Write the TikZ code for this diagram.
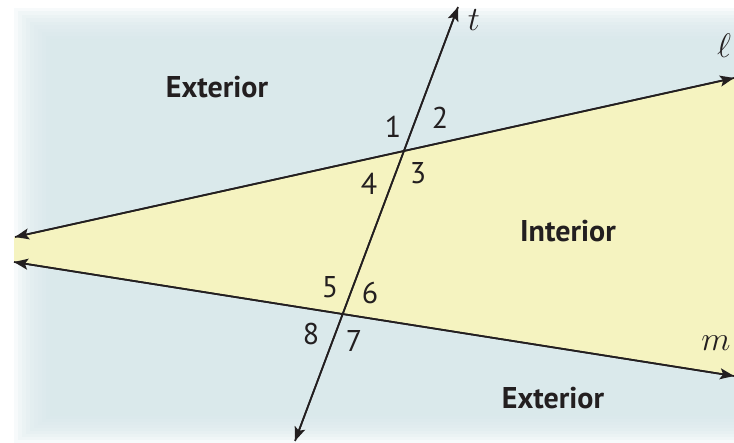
\RequirePackage{fix-cm}
\documentclass[tikz,border=0pt]{standalone}
\usepackage{fontspec}
\setmainfont{PT Sans}
\usetikzlibrary{arrows.meta}
\definecolor{ink}{RGB}{35,31,32}
\definecolor{bluebg}{RGB}{214,230,233}
\definecolor{yel}{RGB}{245,243,192}
\tikzset{
  ln/.style={line width=1.7pt, draw=ink, -{Stealth[length=14pt,width=11pt,inset=3pt]}},
  num/.style={font=\fontsize{30}{30}\selectfont, text=ink, inner sep=0pt},
  region/.style={font=\bfseries\fontsize{30}{30}\selectfont, text=ink, inner sep=0pt},
  var/.style={font=\fontsize{34}{34}\selectfont, text=ink, inner sep=0pt}
}
\begin{document}
\begin{tikzpicture}[x=1pt,y=-1pt]
\useasboundingbox (0,0) rectangle (734,443);
% soft blue background
\foreach \i in {0,...,9}{
  \fill[bluebg, opacity=0.2] (14+4*\i,8+3.5*\i) rectangle (740,443-3*\i);
}
% lines endpoints
\coordinate (lL) at (15,237);
\coordinate (lR) at (734,78);
\coordinate (mL) at (14,262);
\coordinate (mR) at (734,376);
\coordinate (tT) at (458,7);
\coordinate (tB) at (295,441);
% yellow interior
\fill[yel] (14,237.2) -- (734,78) -- (734,376) -- (14,262) -- cycle;
% lines
\draw[ln] (lR) -- (lL);
\draw[ln] (lL) -- (lR);
\draw[ln] (mR) -- (mL);
\draw[ln] (mL) -- (mR);
\draw[ln] (tB) -- (tT);
\draw[ln] (tT) -- (tB);
% labels
\node[var] (t) at (474,20) {$t$};
\node[var] (ell) at (724,46) {$\ell$};
\node[var] (m) at (716,343) {$m$};
\node[region] (ext1) at (217,87) {Exterior};
\node[region] (int) at (568,231) {Interior};
\node[region] (ext2) at (553,398) {Exterior};
\node[num] (n1) at (393,127) {1};
\node[num] (n2) at (440,118) {2};
\node[num] (n3) at (418,173) {3};
\node[num] (n4) at (369,184) {4};
\node[num] (n5) at (330,287) {5};
\node[num] (n6) at (370,293) {6};
\node[num] (n7) at (354,341) {7};
\node[num] (n8) at (311,334) {8};
\end{tikzpicture}
\end{document}
